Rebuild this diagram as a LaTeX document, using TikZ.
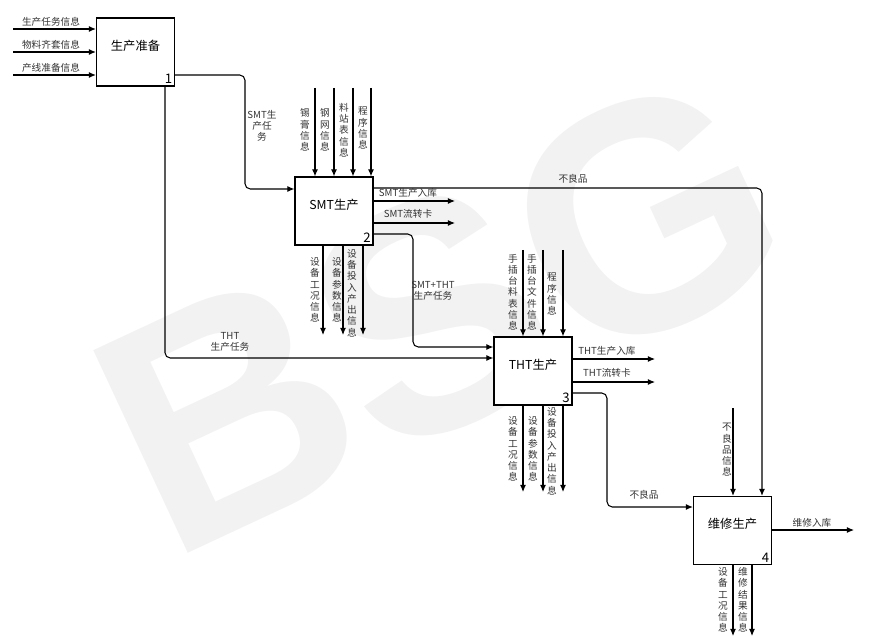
\documentclass[tikz,border=0pt]{standalone}
\usepackage{fontspec}
\setmainfont{Noto Sans CJK SC}
\newfontfamily\marksf{Liberation Sans}
\usetikzlibrary{arrows.meta}

\begin{document}
\begin{tikzpicture}[
  x=0.02cm, y=-0.02cm,
  box/.style={draw, line width=0.7pt, fill=white, minimum width=1.56cm, minimum height=1.36cm,
    inner sep=0pt, text depth=0.28cm, font=\fontsize{7}{8}\selectfont},
  num/.style={anchor=south east, inner sep=1.5pt, font=\fontsize{7.5}{8}\selectfont},
  lbl/.style={font=\fontsize{5.5}{6.4}\selectfont, align=center, inner sep=0pt, text=black!80},
  arr/.style={-{Latex[length=4pt,width=3.4pt]}, line width=0.6pt},
  flow/.style={arr, rounded corners=3pt}
]
  \useasboundingbox (0,0) rectangle (871,638);

  % Watermark
  \node[rotate=25, text=black!5, font=\marksf\bfseries\fontsize{185}{185}\selectfont] (mark) at (440,312) {BSG};

  % Boxes
  \node[box, label={[num]south east:1}] (prep) at (135.5,52) {生产准备};
  \node[box, label={[num]south east:2}] (smt) at (334,211) {SMT生产};
  \node[box, label={[num]south east:3}] (tht) at (533,371) {THT生产};
  \node[box, label={[num]south east:4}] (repair) at (732.5,530.5) {维修生产};

  % Inputs to production preparation
  \coordinate (in1) at (13,29);
  \coordinate (in2) at (13,52);
  \coordinate (in3) at (13,75);
  \foreach \i in {1,2,3}
    \draw[arr] (in\i) -- (in\i -| prep.west);
  \node[lbl] (l1) at (51,22) {生产任务信息};
  \node[lbl] (l2) at (51,45) {物料齐套信息};
  \node[lbl] (l3) at (51,68) {产线准备信息};

  % Preparation to SMT and THT
  \coordinate (p1) at (174,75);
  \coordinate (p2) at (165,86);
  \draw[flow] (p1) -| (245,189) -- (245,189 -| smt.west);
  \draw[flow] (p2) |- (165,358 -| tht.west);
  \node[lbl] (smttask) at (262,126) {SMT生\\产任\\务};
  \node[lbl] (thttask) at (230,342) {THT\\生产任务};

  % SMT controls
  \foreach \x in {315,334,353,371}
    \draw[arr] (\x,88) -- (\x,88 |- smt.north);
  \node[lbl] (s1) at (305,130) {锡\\膏\\信\\息};
  \node[lbl] (s2) at (325,130) {钢\\网\\信\\息};
  \node[lbl] (s3) at (344,130) {料\\站\\表\\信\\息};
  \node[lbl] (s4) at (363,128) {程\\序\\信\\息};

  % SMT outputs
  \draw[flow] (smt.east |- 0,188) -| (repair.north -| 762,0);
  \node[lbl] (bad1) at (573,179) {不良品};
  \draw[arr] (smt.east |- 0,201) -- (455,201);
  \draw[arr] (smt.east |- 0,223) -- (455,223);
  \node[lbl] (s5) at (408,193) {SMT生产入库};
  \node[lbl] (s6) at (408,214) {SMT流转卡};
  \draw[flow] (smt.east |- 0,234) -| (413,347) -- (413,347 -| tht.west);
  \node[lbl] (smttht) at (433,291) {SMT+THT\\生产任务};
  \foreach \x in {323,343,363}
    \draw[arr] (smt.south -| \x,0) -- (\x,335);
  \node[lbl] (s7) at (315,290) {设\\备\\工\\况\\信\\息};
  \node[lbl] (s8) at (337,290) {设\\备\\参\\数\\信\\息};
  \node[lbl] (s9) at (352,293) {设\\备\\投\\入\\产\\出\\信\\息};

  % THT controls
  \foreach \x in {523,543,563}
    \draw[arr] (\x,250) -- (\x,250 |- tht.north);
  \node[lbl] (t1) at (513,292) {手\\插\\台\\料\\表\\信\\息};
  \node[lbl] (t2) at (532,292) {手\\插\\台\\文\\件\\信\\息};
  \node[lbl] (t3) at (552,294) {程\\序\\信\\息};

  % THT outputs
  \draw[arr] (tht.east |- 0,359) -- (655,359);
  \draw[arr] (tht.east |- 0,382) -- (655,382);
  \node[lbl] (t4) at (607,351) {THT生产入库};
  \node[lbl] (t5) at (607,373) {THT流转卡};
  \draw[flow] (tht.east |- 0,393) -| (607,507) -- (607,507 -| repair.west);
  \node[lbl] (bad2) at (644,495) {不良品};
  \foreach \x in {523,543,563}
    \draw[arr] (tht.south -| \x,0) -- (\x,492);
  \node[lbl] (t6) at (513,449) {设\\备\\工\\况\\信\\息};
  \node[lbl] (t7) at (533,449) {设\\备\\参\\数\\信\\息};
  \node[lbl] (t8) at (552,451) {设\\备\\投\\入\\产\\出\\信\\息};

  % Repair
  \coordinate (badinfo) at (733,408);
  \draw[arr] (badinfo) -- (badinfo |- repair.north);
  \node[lbl] (r1) at (727,450) {不\\良\\品\\信\\息};
  \draw[arr] (repair.east |- 0,530) -- (854,530);
  \node[lbl] (r2) at (812,523) {维修入库};
  \foreach \x in {733,752}
    \draw[arr] (repair.south -| \x,0) -- (\x,636);
  \node[lbl] (r3) at (723,600) {设\\备\\工\\况\\信\\息};
  \node[lbl] (r4) at (743,600) {维\\修\\结\\果\\信\\息};
\end{tikzpicture}
\end{document}
